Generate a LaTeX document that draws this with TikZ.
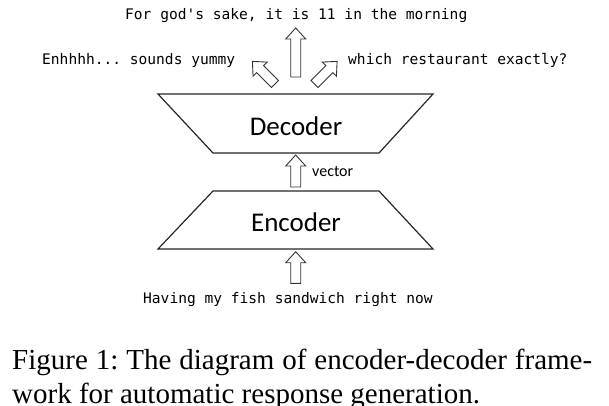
\documentclass[tikz,border=0pt]{standalone}
\usepackage{fontspec}
\setmainfont{Liberation Serif}
\newfontfamily\monofnt{DejaVu Sans Mono}
\newfontfamily\calfnt{Carlito}
\frenchspacing
\begin{document}
\begin{tikzpicture}[x=1pt,y=-1pt,
  mono/.style={font=\monofnt\fontsize{14.57}{16}\selectfont, inner sep=0pt, anchor=base west},
  blocklabel/.style={font=\calfnt\fontsize{27}{30}\selectfont, inner sep=0pt, anchor=base},
  smalllabel/.style={font=\calfnt\fontsize{16}{18}\selectfont, inner sep=0pt, anchor=base west},
  captionline/.style={font=\fontsize{29}{33}\selectfont, inner sep=0pt, anchor=base west},
  shapeline/.style={draw=black!85, line width=1.2pt, line join=miter},
  arrowline/.style={draw=black!80, line width=0.9pt, fill=white, line join=miter},
  pics/barrow/.style={code={
    \draw[arrowline] (-5,0) -- (-5,-#1+11) -- (-10,-#1+11) -- (0,-#1) -- (10,-#1+11) -- (5,-#1+11) -- (5,0) -- cycle;
  }}
]
\useasboundingbox (0,0) rectangle (609,405);

% trapezoids
\draw[shapeline] (158,94) -- (433,94) -- (379,153) -- (213,153) -- cycle;
\draw[shapeline] (213,191) -- (379,191) -- (433,249) -- (158,249) -- cycle;
\node[blocklabel] (dec) at (296,135.5) {Decoder};
\node[blocklabel] (enc) at (296,231.5) {Encoder};

% arrows
\pic at (295.7,187) {barrow=32};
\pic at (295.7,283.3) {barrow=31.6};
\pic at (295.7,77) {barrow=49};
\pic[rotate=45] at (275,84) {barrow=32};
\pic[rotate=-45] at (314.5,84) {barrow=32};

\node[smalllabel] (vec) at (312,176) {vector};

% texts
\node[mono] (top) at (125,19) {For god's sake, it is 11 in the morning};
\node[mono] (left) at (42,64.5) {Enhhhh... sounds yummy};
\node[mono] (right) at (348,64.5) {which restaurant exactly?};
\node[mono] (bottom) at (143,303.3) {Having my fish sandwich right now};

% caption
\node[captionline] (cap1) at (12,369) {\makebox[580pt][s]{Figure 1: The diagram of encoder-decoder frame-}};
\node[captionline] (cap2) at (12,403.5) {work for automatic response generation.};
\end{tikzpicture}
\end{document}
